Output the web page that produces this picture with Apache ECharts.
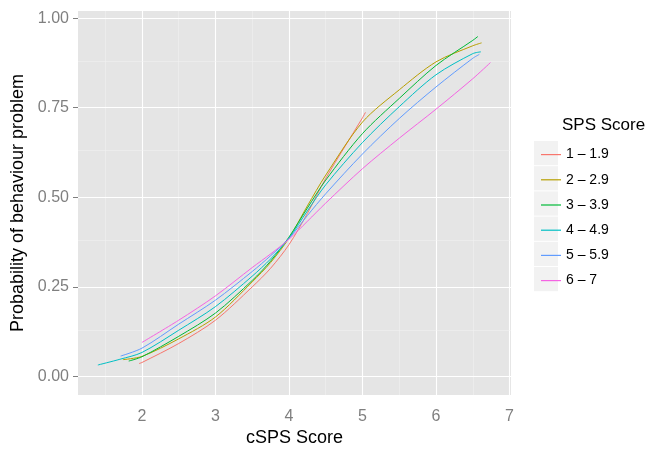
<!DOCTYPE html>
<html>
<head>
<meta charset="utf-8">
<script src="https://cdn.jsdelivr.net/npm/echarts@6/dist/echarts.min.js"></script>
<style>html,body{margin:0;padding:0;background:#fff;}#c{width:650px;height:452px;}</style>
</head>
<body>
<div id="c"></div>
<script>
// ---- data ----
const seriesNames = ['1 \u2013 1.9', '2 \u2013 2.9', '3 \u2013 3.9', '4 \u2013 4.9', '5 \u2013 5.9', '6 \u2013 7'];
const colors = ['#F8766D', '#B79F00', '#00BA38', '#00BFC4', '#619CFF', '#F564E3'];

const x1 = [1.96, 2, 2.5, 3, 3.5, 3.75, 4, 4.25, 4.5, 5, 5.04];
const y1 = [0.036, 0.039, 0.092, 0.157, 0.250, 0.302, 0.368, 0.455, 0.553, 0.722, 0.737];

const x2 = [1.74, 2, 2.5, 3, 3.5, 3.75, 4, 4.25, 4.5, 5, 5.5, 6, 6.5, 6.62];
const y2 = [0.047, 0.056, 0.105, 0.166, 0.264, 0.318, 0.386, 0.476, 0.562, 0.71, 0.80, 0.878, 0.923, 0.931];

const x3 = [1.82, 2, 2.5, 3, 3.5, 3.75, 4, 4.25, 4.5, 5, 5.5, 6, 6.5, 6.57];
const y3 = [0.043, 0.055, 0.112, 0.177, 0.268, 0.322, 0.389, 0.470, 0.548, 0.678, 0.776, 0.868, 0.938, 0.949];

const x4 = [1.40, 1.7, 2, 2.5, 3, 3.5, 3.75, 4, 4.25, 4.5, 5, 5.5, 6, 6.5, 6.61];
const y4 = [0.032, 0.048, 0.067, 0.129, 0.195, 0.280, 0.328, 0.386, 0.462, 0.535, 0.653, 0.753, 0.842, 0.901, 0.906];

const x5 = [1.71, 2, 2.5, 3, 3.5, 3.75, 4, 4.25, 4.5, 5, 5.5, 6, 6.5, 6.59];
const y5 = [0.057, 0.079, 0.146, 0.213, 0.293, 0.337, 0.385, 0.449, 0.510, 0.621, 0.72, 0.808, 0.888, 0.899];

const x6 = [2, 2.5, 3, 3.5, 3.75, 4, 4.25, 4.5, 5, 5.5, 6, 6.5, 6.74];
const y6 = [0.095, 0.157, 0.225, 0.304, 0.342, 0.383, 0.433, 0.484, 0.58, 0.665, 0.746, 0.831, 0.876];

const xTicks = [2, 3, 4, 5, 6, 7];
const xMinor = [1.5, 2.5, 3.5, 4.5, 5.5, 6.5];
const yTicks = [0, 0.25, 0.5, 0.75, 1];
const yMinor = [0.125, 0.375, 0.625, 0.875];

const xs = [x1, x2, x3, x4, x5, x6];
const ys = [y1, y2, y3, y4, y5, y6];

// ---- chart ----
const FONT = '"Liberation Sans", Arial, Helvetica, sans-serif';
const chart = echarts.init(document.getElementById('c'), null, {renderer: 'canvas'});

const gridLines = [];
xTicks.forEach(v => gridLines.push({xAxis: v, lineStyle: {color: '#FFFFFF', width: 1.1, type: 'solid'}}));
xMinor.forEach(v => gridLines.push({xAxis: v, lineStyle: {color: '#F2F2F2', width: 0.5, type: 'solid'}}));
yTicks.forEach(v => gridLines.push({yAxis: v, lineStyle: {color: '#FFFFFF', width: 1.1, type: 'solid'}}));
yMinor.forEach(v => gridLines.push({yAxis: v, lineStyle: {color: '#F2F2F2', width: 0.5, type: 'solid'}}));

const series = seriesNames.map((name, i) => ({
  name: name,
  type: 'line',
  data: xs[i].map((x, j) => [x, ys[i][j]]),
  smooth: 0.3,
  showSymbol: false,
  symbol: 'none',
  z: 3,
  lineStyle: {width: 1, color: colors[i]},
  itemStyle: {color: colors[i]},
  animation: false
}));

series.push({
  name: '__grid',
  type: 'line',
  data: [],
  z: 1,
  silent: true,
  animation: false,
  markLine: {
    z: 1,
    silent: true,
    animation: false,
    symbol: ['none', 'none'],
    label: {show: false},
    emphasis: {disabled: true},
    data: gridLines
  }
});

const keyRects = seriesNames.map((n, i) => ({
  type: 'rect',
  left: 534,
  top: 141 + i * 25.2,
  shape: {width: 24, height: 24.2},
  style: {fill: '#F2F2F2'},
  silent: true,
  z: -1
}));

chart.setOption({
  animation: false,
  backgroundColor: '#FFFFFF',
  textStyle: {fontFamily: FONT},
  grid: {
    left: 78, top: 11, width: 433, height: 392,
    show: true, backgroundColor: '#E5E5E5', borderWidth: 0
  },
  xAxis: {
    type: 'value',
    min: 1.13, max: 7.02,
    name: 'cSPS Score',
    nameLocation: 'middle',
    nameGap: 30,
    nameTextStyle: {fontSize: 18, color: '#000000', fontFamily: FONT},
    axisLine: {show: false},
    axisTick: {show: true, length: 5, customValues: xTicks, lineStyle: {color: '#7F7F7F', width: 1}},
    axisLabel: {show: true, customValues: xTicks, margin: 13, fontSize: 16, color: '#7F7F7F', fontFamily: FONT,
      formatter: v => String(v)},
    splitLine: {show: false},
    minorSplitLine: {show: false}
  },
  yAxis: {
    type: 'value',
    min: -0.052, max: 1.02,
    name: 'Probability of behaviour problem',
    nameLocation: 'middle',
    nameGap: 46,
    nameTextStyle: {fontSize: 18, color: '#000000', fontFamily: FONT},
    axisLine: {show: false},
    axisTick: {show: true, length: 5, customValues: yTicks, lineStyle: {color: '#7F7F7F', width: 1}},
    axisLabel: {show: true, customValues: yTicks, margin: 9, fontSize: 16, color: '#7F7F7F', fontFamily: FONT,
      formatter: v => v.toFixed(2)},
    splitLine: {show: false}
  },
  legend: {
    orient: 'vertical',
    left: 536,
    top: 137,
    itemWidth: 20,
    itemHeight: 1.2,
    itemGap: 0,
    icon: 'rect',
    data: seriesNames,
    selectedMode: false,
    textStyle: {fontSize: 14, color: '#000000', fontFamily: FONT, lineHeight: 25.2}
  },
  graphic: [
    ...keyRects,
    {
      type: 'text',
      left: 562,
      top: 117,
      silent: true,
      style: {text: 'SPS Score', fontSize: 17, fill: '#000000', fontFamily: FONT}
    }
  ],
  series: series
});
</script>
</body>
</html>
